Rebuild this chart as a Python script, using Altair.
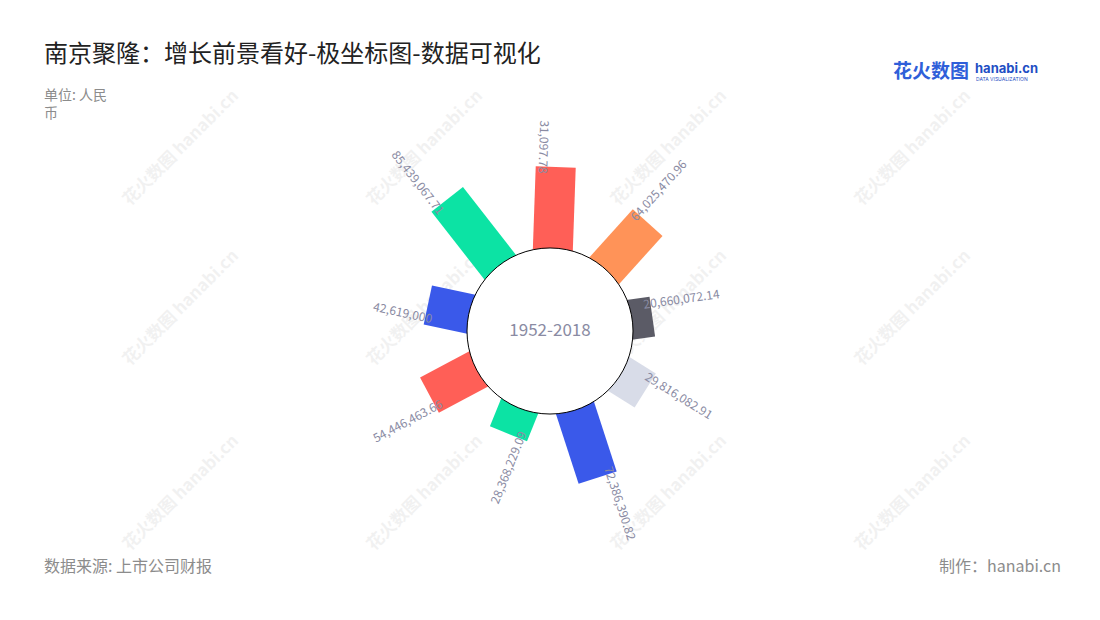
import altair as alt
import pandas as pd

# ---- data ----
values = [82431097.78, 64025470.96, 20660072.14, 29816082.91, 72386390.82,
          28368229.09, 54446463.66, 42619000.00, 85439067.71]
bar_keys = ["b1", "b2", "b3", "b4", "b5", "b6", "b7", "b8", "b9"]
palette = ["#ff5f57", "#ff9358", "#5b5b66", "#d8dce8", "#3a59ea",
           "#0ce3a4", "#ff5f57", "#3a59ea", "#0ce3a4"]
center_label = ["1952-2018"]
title_text = "南京聚隆：增长前景看好-极坐标图-数据可视化"
unit_lines = ["单位: 人民", "币"]
source_text = "数据来源: 上市公司财报"
credit_text = "制作：hanabi.cn"

FONT = "Noto Sans CJK SC"
LABEL_COLOR = "#8a8ba3"

df = pd.DataFrame({"key": bar_keys, "value": values, "idx": list(range(len(values)))})
cdf = pd.DataFrame({"label": center_label, "cx": [0], "cy": [0]})

TOP = 112          # plot area starts at page y = 8 + TOP
OY = 8 + TOP       # page -> view y offset
W, H = 1084, 604 - TOP
CY = 331 - OY      # circle centre in view coords
xs = alt.Scale(domain=[-542, 542], nice=False, zero=False)
ys = alt.Scale(domain=[-(H - CY), CY], nice=False, zero=False)

base = alt.Chart(df).transform_calculate(
    deg="2 + 40 * datum.idx",
).transform_calculate(
    th="datum.deg * PI / 180",
    r1="83 + datum.value / 1e6 * 0.983",
).transform_calculate(
    x0="60 * sin(datum.th)", y0="60 * cos(datum.th)",
    x1="datum.r1 * sin(datum.th)", y1="datum.r1 * cos(datum.th)",
    lx="(datum.r1 - 7) * sin(datum.th) - 13 * cos(datum.th)",
    ly="(datum.r1 - 7) * cos(datum.th) + 13 * sin(datum.th)",
    outward="datum.deg > 10 && datum.deg < 180",
    ang="(datum.deg > 10 && datum.deg < 180) ? (datum.deg + 270) % 360 : (datum.deg + 90) % 360",
)

bars = base.mark_rule(strokeWidth=40, strokeCap="butt").encode(
    x=alt.X("x0:Q", scale=xs, axis=None),
    y=alt.Y("y0:Q", scale=ys, axis=None),
    x2="x1:Q", y2="y1:Q",
    color=alt.Color("key:N", scale=alt.Scale(domain=bar_keys, range=palette), legend=None),
)

lab_out = base.transform_filter("datum.outward").mark_text(
    align="left", baseline="middle", font=FONT, fontSize=12, color=LABEL_COLOR, clip=True
).encode(
    x=alt.X("lx:Q", scale=xs, axis=None), y=alt.Y("ly:Q", scale=ys, axis=None),
    angle=alt.Angle("ang:Q", scale=None),
    text=alt.Text("value:Q", format=",.2~f"),
)
lab_in = base.transform_filter("!datum.outward").mark_text(
    align="right", baseline="middle", font=FONT, fontSize=12, color=LABEL_COLOR, clip=True
).encode(
    x=alt.X("lx:Q", scale=xs, axis=None), y=alt.Y("ly:Q", scale=ys, axis=None),
    angle=alt.Angle("ang:Q", scale=None),
    text=alt.Text("value:Q", format=",.2~f"),
)

circle = alt.Chart(cdf).mark_point(
    shape="circle", filled=True, fill="white", stroke="black", strokeWidth=1,
    size=27556, opacity=1, fillOpacity=1
).encode(x=alt.X("cx:Q", scale=xs, axis=None), y=alt.Y("cy:Q", scale=ys, axis=None))

center_txt = alt.Chart(cdf).mark_text(
    font=FONT, fontSize=17, color=LABEL_COLOR, baseline="middle"
).encode(x=alt.X("cx:Q", scale=xs, axis=None), y=alt.Y("cy:Q", scale=ys, axis=None), text="label:N")

def fixed_text(txt, px, py, **kw):
    """Text placed at page coordinates (px, py)."""
    return alt.Chart(cdf).mark_text(font=kw.pop("font", FONT), **kw).encode(
        x=alt.value(px - 8), y=alt.value(py - OY), text=alt.value(txt))

layers = []
# watermarks
for wy in [148, 308, 493]:
    for wx in [181, 425, 669, 913]:
        layers.append(fixed_text("花火数图 hanabi.cn", wx, wy, fontSize=17,
                                 fontWeight="bold", color="#000000", opacity=0.05,
                                 angle=315, align="center", baseline="middle"))

layers += [bars, lab_out, lab_in, circle, center_txt]

layers += [
    fixed_text(title_text, 44, 55, fontSize=24, color="#222222", align="left", baseline="middle"),
    fixed_text(unit_lines[0], 44, 96, fontSize=14, color="#8c8c8c", align="left", baseline="middle"),
    fixed_text(unit_lines[1], 44, 114, fontSize=14, color="#8c8c8c", align="left", baseline="middle"),
    fixed_text(source_text, 44, 567, fontSize=16, color="#8c8c8c", align="left", baseline="middle"),
    fixed_text(credit_text, 1061, 567, fontSize=16, color="#8c8c8c", align="right", baseline="middle"),
    fixed_text("花火数图", 893, 72, fontSize=19, fontWeight="bold", color="#2f5fd9",
               align="left", baseline="middle"),
    fixed_text("hanabi.cn", 975, 69, fontSize=13, fontWeight="bold", color="#1f4fc4",
               align="left", baseline="middle", font="Inter"),
    fixed_text("DATA VISUALIZATION", 976, 79, fontSize=5, color="#1f4fc4",
               align="left", baseline="middle", font="Inter"),
]

chart = alt.layer(*layers).properties(
    width=W, height=H,
    padding={"top": TOP, "left": 0, "right": 0, "bottom": 0},
    autosize=alt.AutoSizeParams(type="none"),
    background="white",
).configure_view(strokeWidth=0)

chart.save("out.html", embed_options={"renderer": "svg", "actions": False})
